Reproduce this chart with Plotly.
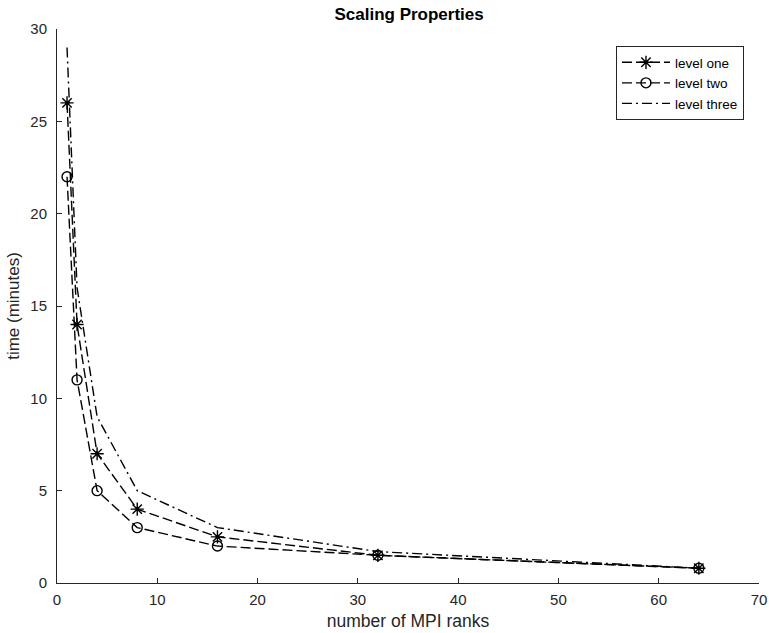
import plotly.graph_objects as go

ranks = [1, 2, 4, 8, 16, 32, 64]
level_one = [26, 14, 7, 4, 2.5, 1.5, 0.8]
level_two = [22, 11, 5, 3, 2, 1.5, 0.8]
level_three = [29, 16, 9, 5, 3, 1.7, 0.8]

x_ticks = [0, 10, 20, 30, 40, 50, 60, 70]
y_ticks = [0, 5, 10, 15, 20, 25, 30]

FONT = "Liberation Sans, Arial, Helvetica, sans-serif"
AX = "#262626"

fig = go.Figure()
fig.add_trace(go.Scatter(
    x=ranks, y=level_one, name="level one", mode="lines+markers",
    line=dict(color="black", width=1.4, dash="10px,4px"),
    marker=dict(symbol="asterisk-open", size=11, color="black",
                line=dict(color="black", width=1.4)),
))
fig.add_trace(go.Scatter(
    x=ranks, y=level_two, name="level two", mode="lines+markers",
    line=dict(color="black", width=1.4, dash="10px,4px"),
    marker=dict(symbol="circle-open", size=10, color="black",
                line=dict(color="black", width=1.4)),
))
fig.add_trace(go.Scatter(
    x=ranks, y=level_three, name="level three", mode="lines",
    line=dict(color="black", width=1.4, dash="10px,4px,2px,4px"),
))

fig.update_layout(
    width=769, height=633,
    margin=dict(l=57, r=10, t=29, b=50),
    paper_bgcolor="white", plot_bgcolor="white",
    font=dict(family=FONT, color=AX, size=15),
    title=dict(text="<b>Scaling Properties</b>", x=0.532, xanchor="center",
               y=0.978, yanchor="middle", font=dict(size=17, color="black")),
    showlegend=True,
    legend=dict(x=0.9786, xanchor="right", y=0.9693, yanchor="top",
                bgcolor="white", bordercolor=AX, borderwidth=1,
                font=dict(size=13.5, color="black"), itemwidth=48,
                tracegroupgap=0),
)
fig.update_xaxes(
    range=[0, 70], tickvals=x_ticks, ticktext=[str(v) for v in x_ticks],
    showline=True, linecolor=AX, linewidth=1, mirror=False,
    ticks="inside", ticklen=5, tickcolor=AX, showgrid=False, zeroline=False,
    ticklabelstandoff=3, automargin=False,
    title=dict(text="number of MPI ranks", font=dict(size=17.5, color=AX), standoff=7),
    tickfont=dict(size=15, color=AX),
)
fig.update_yaxes(
    range=[0, 30], tickvals=y_ticks, ticktext=[str(v) for v in y_ticks],
    showline=True, linecolor=AX, linewidth=1, mirror=False,
    ticks="inside", ticklen=5, tickcolor=AX, showgrid=False, zeroline=False,
    ticklabelstandoff=6, automargin=False,
    title=dict(text="time (minutes)", font=dict(size=17, color=AX), standoff=6),
    tickfont=dict(size=15, color=AX),
)

fig.write_html("out.html")
